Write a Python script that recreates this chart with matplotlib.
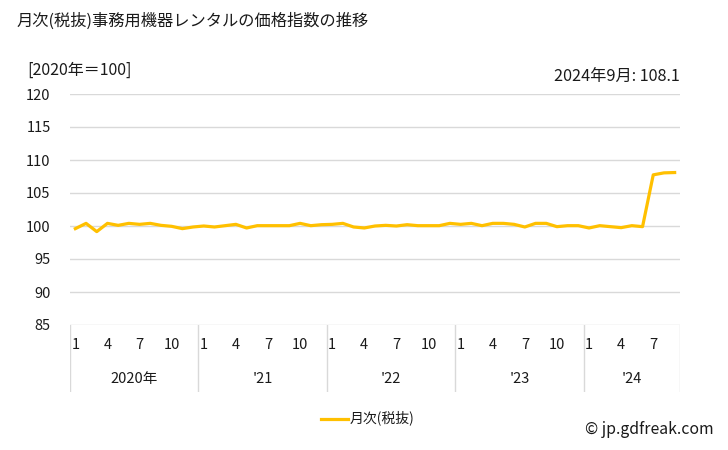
import matplotlib
matplotlib.use("Agg")
import matplotlib.pyplot as plt
import numpy as np

plt.rcParams['font.family'] = ['Noto Sans CJK JP', 'DejaVu Sans']

# monthly index, Jan 2020 - Sep 2024 (2020 = 100)
years = [2020, 2021, 2022, 2023, 2024]
year_labels = ['2020年', "'21", "'22", "'23", "'24"]
months_per_year = [12, 12, 12, 12, 9]
values = [
    99.6, 100.4, 99.15, 100.4, 100.1, 100.4, 100.25, 100.4, 100.1, 99.95, 99.6, 99.85,
    100.0, 99.85, 100.05, 100.25, 99.7, 100.05, 100.05, 100.05, 100.05, 100.4, 100.05, 100.2,
    100.25, 100.4, 99.85, 99.7, 100.0, 100.1, 100.0, 100.2, 100.05, 100.05, 100.05, 100.4,
    100.25, 100.4, 100.05, 100.4, 100.4, 100.25, 99.85, 100.4, 100.4, 99.9, 100.05, 100.05,
    99.7, 100.05, 99.9, 99.75, 100.05, 99.9, 107.75, 108.05, 108.1,
]
month_ticks = [1, 4, 7, 10]
series_name = '月次(税抜)'
title = '月次(税抜)事務用機器レンタルの価格指数の推移'
latest_note = '2024年9月: 108.1'

line_color = '#FFC000'
grid_color = '#D9D9D9'
text_color = '#1a1a1a'

W, H = 728, 450
fig = plt.figure(figsize=(W / 100, H / 100), dpi=100)

x0, x1 = 70, 680
y_top, y_bot = 94, 325
ax = fig.add_axes([x0 / W, 1 - y_bot / H, (x1 - x0) / W, (y_bot - y_top) / H])

n = len(values)
x = np.arange(n)
ax.plot(x, values, color=line_color, lw=2.3, solid_joinstyle='round', zorder=3)

ax.set_xlim(-0.5, n - 0.5)
ax.set_ylim(85, 120)
ax.set_yticks(np.arange(85, 121, 5))
ax.set_xticks([])
for yv in np.arange(85, 121, 5):
    ax.axhline(yv, color=grid_color, lw=1, zorder=1)
for s in ax.spines.values():
    s.set_visible(False)
ax.tick_params(axis='y', length=0, pad=14, labelsize=10.5, labelcolor=text_color)

# category table below the plot
tb_bot = 392
tax = fig.add_axes([x0 / W, 1 - tb_bot / H, (x1 - x0) / W, (tb_bot - y_bot) / H])
tax.set_xlim(-0.5, n - 0.5)
tax.set_ylim(0, 1)
tax.axis('off')
start = 0
bounds = [-0.5]
for yl, m in zip(year_labels, months_per_year):
    for k in range(m):
        if k + 1 in month_ticks:
            tax.text(start + k, 0.7, str(k + 1), ha='center', va='center',
                     fontsize=10.5, color=text_color)
    tax.text(start + (m - 1) / 2, 0.2, yl, ha='center', va='center',
             fontsize=10.5, color=text_color)
    start += m
    bounds.append(start - 0.5)
for b in bounds:
    tax.axvline(b, color=grid_color, lw=1)

fig.text(17 / W, 1 - 21 / H, title, fontsize=11.7, va='center', ha='left', color=text_color)
fig.text(27 / W, 1 - 70 / H, '[2020年＝100]', fontsize=11.5, va='center', ha='left', color=text_color)
fig.text(x1 / W, 1 - 76 / H, latest_note, fontsize=11.7, va='center', ha='right', color=text_color)

# legend
fig.add_artist(plt.Line2D([321 / W, 348 / W], [1 - 419 / H, 1 - 419 / H],
                          color=line_color, lw=2.3))
fig.text(350 / W, 1 - 418 / H, series_name, fontsize=10, va='center', ha='left', color=text_color)
fig.text(714 / W, 1 - 429 / H, '© jp.gdfreak.com', fontsize=11.4, va='center', ha='right', color=text_color)

fig.savefig('out.png', dpi=100)
